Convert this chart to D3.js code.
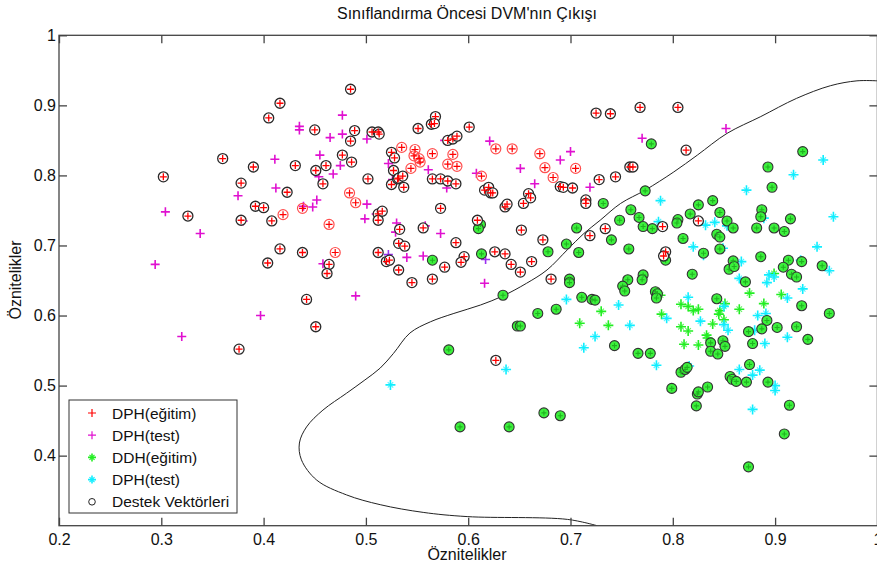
<!DOCTYPE html>
<html><head><meta charset="utf-8">
<script src="https://cdn.jsdelivr.net/npm/d3@7"></script>
<style>
body{margin:0;background:#fff;}
text{font-family:"Liberation Sans",Arial,sans-serif;fill:#111;}
</style></head>
<body><svg id="c" width="877" height="567"></svg>
<script>
const titleText = "Sınıflandırma Öncesi DVM'nın Çıkışı";
const xLabel = "Öznitelikler", yLabel = "Öznitelikler";
const xTicks = [0.2,0.3,0.4,0.5,0.6,0.7,0.8,0.9,1.0];
const yTicks = [0.4,0.5,0.6,0.7,0.8,0.9,1.0];
const legendLabels = ["DPH(eğitim)","DPH(test)","DDH(eğitim)","DPH(test)","Destek Vektörleri"];

// DPH training points that are support vectors
const redSV = [[0.485,0.923],[0.416,0.903],[0.405,0.882],[0.450,0.865],[0.489,0.864],[0.485,0.849],[0.506,0.862],[0.512,0.862],[0.513,0.859],[0.360,0.824],[0.302,0.798],[0.390,0.812],[0.431,0.814],[0.477,0.829],[0.486,0.819],[0.451,0.807],[0.461,0.814],[0.458,0.788],[0.502,0.795],[0.378,0.789],[0.423,0.776],[0.392,0.756],[0.400,0.754],[0.326,0.742],[0.378,0.736],[0.408,0.735],[0.512,0.745],[0.512,0.736],[0.516,0.749],[0.525,0.833],[0.528,0.825],[0.527,0.807],[0.525,0.787],[0.531,0.795],[0.568,0.884],[0.564,0.873],[0.567,0.874],[0.551,0.867],[0.601,0.869],[0.580,0.850],[0.585,0.852],[0.589,0.856],[0.725,0.889],[0.739,0.888],[0.768,0.897],[0.805,0.897],[0.532,0.796],[0.536,0.799],[0.537,0.783],[0.565,0.795],[0.573,0.795],[0.580,0.792],[0.588,0.788],[0.616,0.779],[0.620,0.783],[0.622,0.775],[0.624,0.775],[0.690,0.784],[0.693,0.783],[0.702,0.782],[0.728,0.794],[0.744,0.798],[0.758,0.812],[0.761,0.812],[0.813,0.836],[0.573,0.753],[0.636,0.755],[0.638,0.759],[0.654,0.760],[0.659,0.774],[0.661,0.768],[0.715,0.765],[0.715,0.760],[0.609,0.736],[0.556,0.725],[0.533,0.723],[0.652,0.722],[0.734,0.724],[0.719,0.714],[0.673,0.708],[0.588,0.704],[0.532,0.703],[0.538,0.699],[0.520,0.677],[0.523,0.679],[0.596,0.684],[0.593,0.676],[0.577,0.669],[0.626,0.691],[0.636,0.688],[0.642,0.673],[0.662,0.677],[0.532,0.665],[0.565,0.652],[0.545,0.647],[0.651,0.662],[0.681,0.652],[0.416,0.695],[0.438,0.690],[0.404,0.675],[0.464,0.673],[0.462,0.660],[0.512,0.690],[0.442,0.623],[0.451,0.584],[0.376,0.552],[0.627,0.536],[0.790,0.727],[0.825,0.735],[0.793,0.691],[0.791,0.685]];
// DPH training points (not support vectors)
const redTrain = [[0.484,0.775],[0.490,0.761],[0.438,0.753],[0.419,0.744],[0.464,0.730],[0.470,0.690],[0.535,0.840],[0.548,0.837],[0.547,0.828],[0.552,0.824],[0.553,0.819],[0.565,0.831],[0.585,0.830],[0.580,0.816],[0.589,0.813],[0.627,0.838],[0.643,0.838],[0.670,0.831],[0.544,0.810],[0.613,0.799],[0.675,0.811],[0.683,0.797],[0.705,0.810]];
// DPH test points
const magTest = [[0.477,0.886],[0.435,0.870],[0.435,0.865],[0.465,0.854],[0.477,0.859],[0.501,0.852],[0.411,0.823],[0.455,0.829],[0.475,0.814],[0.468,0.802],[0.454,0.798],[0.412,0.782],[0.375,0.771],[0.439,0.756],[0.448,0.755],[0.452,0.765],[0.501,0.759],[0.304,0.748],[0.380,0.735],[0.499,0.738],[0.510,0.745],[0.530,0.732],[0.577,0.850],[0.621,0.849],[0.700,0.834],[0.690,0.822],[0.522,0.817],[0.526,0.809],[0.561,0.808],[0.608,0.803],[0.651,0.810],[0.526,0.794],[0.579,0.782],[0.665,0.788],[0.719,0.783],[0.558,0.728],[0.529,0.719],[0.573,0.717],[0.540,0.683],[0.556,0.685],[0.616,0.646],[0.338,0.717],[0.294,0.673],[0.458,0.674],[0.490,0.628],[0.397,0.600],[0.320,0.570],[0.852,0.867],[0.770,0.853]];
const violetTest = [[0.522,0.687],[0.617,0.680]];
// DDH training points that are support vectors
const greenSV = [[0.732,0.760],[0.748,0.736],[0.773,0.778],[0.779,0.845],[0.612,0.730],[0.610,0.724],[0.706,0.725],[0.696,0.702],[0.740,0.708],[0.565,0.679],[0.613,0.688],[0.678,0.691],[0.708,0.690],[0.757,0.695],[0.699,0.652],[0.699,0.647],[0.634,0.629],[0.756,0.651],[0.751,0.642],[0.753,0.635],[0.711,0.626],[0.721,0.623],[0.724,0.622],[0.668,0.603],[0.686,0.609],[0.648,0.585],[0.651,0.585],[0.743,0.557],[0.581,0.551],[0.759,0.751],[0.767,0.740],[0.771,0.727],[0.780,0.724],[0.805,0.737],[0.804,0.732],[0.817,0.745],[0.825,0.758],[0.839,0.764],[0.846,0.747],[0.853,0.735],[0.810,0.710],[0.843,0.716],[0.846,0.712],[0.830,0.689],[0.846,0.695],[0.793,0.679],[0.855,0.666],[0.819,0.659],[0.771,0.658],[0.770,0.651],[0.783,0.634],[0.785,0.631],[0.784,0.625],[0.843,0.624],[0.837,0.561],[0.849,0.564],[0.851,0.556],[0.837,0.549],[0.844,0.545],[0.766,0.546],[0.778,0.546],[0.808,0.519],[0.812,0.523],[0.814,0.526],[0.799,0.496],[0.824,0.488],[0.825,0.491],[0.834,0.498],[0.856,0.513],[0.858,0.509],[0.862,0.506],[0.823,0.471],[0.927,0.834],[0.893,0.812],[0.897,0.783],[0.887,0.751],[0.886,0.741],[0.915,0.738],[0.859,0.725],[0.882,0.725],[0.899,0.725],[0.909,0.720],[0.886,0.684],[0.859,0.678],[0.860,0.670],[0.913,0.679],[0.908,0.669],[0.926,0.677],[0.946,0.671],[0.916,0.659],[0.921,0.655],[0.871,0.648],[0.926,0.614],[0.953,0.603],[0.892,0.593],[0.874,0.577],[0.887,0.581],[0.902,0.583],[0.921,0.584],[0.932,0.566],[0.878,0.560],[0.875,0.530],[0.872,0.505],[0.893,0.505],[0.914,0.472],[0.909,0.431],[0.874,0.384],[0.592,0.441],[0.640,0.441],[0.674,0.461],[0.690,0.457]];
// DDH training points (not support vectors)
const greenTrain = [[0.730,0.606],[0.709,0.589],[0.737,0.586],[0.788,0.629],[0.808,0.616],[0.815,0.613],[0.820,0.607],[0.825,0.609],[0.846,0.607],[0.845,0.602],[0.789,0.602],[0.839,0.588],[0.850,0.594],[0.808,0.584],[0.815,0.578],[0.833,0.572],[0.834,0.568],[0.811,0.559],[0.825,0.558],[0.899,0.660],[0.875,0.632],[0.906,0.630],[0.889,0.617],[0.851,0.617],[0.865,0.609]];
// test points (cyan)
const cyanTest = [[0.788,0.764],[0.786,0.734],[0.832,0.729],[0.841,0.733],[0.853,0.728],[0.820,0.698],[0.830,0.686],[0.849,0.696],[0.815,0.626],[0.747,0.615],[0.794,0.596],[0.827,0.592],[0.854,0.579],[0.758,0.586],[0.724,0.570],[0.713,0.554],[0.784,0.529],[0.816,0.528],[0.696,0.623],[0.637,0.523],[0.524,0.501],[0.947,0.822],[0.918,0.801],[0.872,0.779],[0.889,0.739],[0.957,0.741],[0.941,0.698],[0.867,0.677],[0.860,0.670],[0.925,0.679],[0.953,0.664],[0.894,0.658],[0.899,0.655],[0.865,0.653],[0.892,0.647],[0.927,0.638],[0.912,0.625],[0.850,0.613],[0.883,0.600],[0.891,0.603],[0.850,0.587],[0.880,0.579],[0.912,0.569],[0.890,0.560],[0.865,0.523],[0.885,0.522],[0.878,0.515],[0.900,0.500],[0.900,0.493],[0.878,0.466]];
// decision boundary
const boundaryX = [0.726,0.697,0.599,0.556,0.514,0.481,0.452,0.437,0.435,0.442,0.458,0.481,0.499,0.514,0.527,0.543,0.563,0.586,0.612,0.634,0.657,0.677,0.697,0.713,0.729,0.749,0.773,0.801,0.824,0.853,0.886,0.921,0.954,0.980,1.000];
const boundaryY = [0.300,0.309,0.313,0.319,0.330,0.344,0.365,0.394,0.418,0.441,0.465,0.489,0.508,0.525,0.546,0.575,0.591,0.603,0.615,0.628,0.646,0.665,0.694,0.717,0.736,0.760,0.779,0.805,0.829,0.860,0.884,0.910,0.928,0.935,0.935];

const svg = d3.select("#c");
const x = d3.scaleLinear().domain([0.2,1.0]).range([59,877.4]);
const y = d3.scaleLinear().domain([0.3,1.0]).range([525.7,35.3]);
const fs = 16;

svg.append("defs").append("clipPath").attr("id","clip").append("rect")
  .attr("x",59).attr("y",35.3).attr("width",818.4).attr("height",490.4);
const plot = svg.append("g").attr("clip-path","url(#clip)");

const plusPath = a => `M${-a},0H${a}M0,${-a}V${a}`;
const xPath = a => `M${-a},${-a}L${a},${a}M${-a},${a}L${a},${-a}`;
const circlePath = r => `M${r},0A${r},${r} 0 1,1 ${-r},0A${r},${r} 0 1,1 ${r},0Z`;

function drawPlus(g, data, color, a, w){
  g.selectAll(null).data(data).join("path")
   .attr("transform", d=>`translate(${x(d[0])},${y(d[1])})`)
   .attr("d", plusPath(a)).attr("stroke", color).attr("stroke-width", w).attr("fill","none");
}
function drawStar(g, data, color, a, w){
  g.selectAll(null).data(data).join("path")
   .attr("transform", d=>`translate(${x(d[0])},${y(d[1])})`)
   .attr("d", plusPath(a)).attr("stroke", color).attr("stroke-width", w).attr("fill","none");
  g.selectAll(null).data(data).join("path")
   .attr("transform", d=>`translate(${x(d[0])},${y(d[1])})`)
   .attr("d", xPath(a*0.55)).attr("stroke", color).attr("stroke-width", w*0.7).attr("fill","none").attr("opacity",0.7);
}
function drawCircle(g, data, color, r, w, fill){
  g.selectAll(null).data(data).join("path")
   .attr("transform", d=>`translate(${x(d[0])},${y(d[1])})`)
   .attr("d", circlePath(r)).attr("stroke", color).attr("stroke-width", w).attr("fill", fill||"none");
}

// boundary
const line = d3.line().x((d,i)=>x(boundaryX[i])).y((d,i)=>y(boundaryY[i])).curve(d3.curveCatmullRom);
plot.append("path").attr("d", line(boundaryX)).attr("fill","none").attr("stroke","#222").attr("stroke-width",1);

const gM = plot.append("g");
drawPlus(gM, magTest, "#e010d0", 4.5, 1.6);
drawPlus(gM, violetTest, "#9a30f0", 4.5, 1.6);
drawCircle(gM, redTrain, "#ff5050", 5, 1.2);
drawPlus(gM, redTrain, "#ff0000", 3.5, 1.2);
drawStar(gM, greenTrain, "#22ee22", 5, 1.6);
drawStar(gM, cyanTest, "#10eeff", 5, 1.6);
drawCircle(gM, greenSV, "#333", 5, 1.1, "#3cf03c");
drawPlus(gM, greenSV, "#1fb01f", 2.5, 1.1);
drawCircle(gM, redSV, "#2a2a2a", 5, 1.3, "#fff");
drawPlus(gM, redSV, "#ff0000", 3.5, 1.3);

// axes
const axCol = "#444";
svg.append("rect").attr("x",59).attr("y",35.3).attr("width",818.4).attr("height",490.4)
  .attr("fill","none").attr("stroke",axCol).attr("stroke-width",1.3);
const fmt = d => d===1 ? "1" : d.toFixed(1);
const ax = svg.append("g").attr("transform","translate(0,525.7)")
  .call(d3.axisBottom(x).tickValues(xTicks).tickFormat(fmt).tickSizeInner(-8).tickSizeOuter(0).tickPadding(8));
const axT = svg.append("g").attr("transform","translate(0,35.3)")
  .call(d3.axisTop(x).tickValues(xTicks).tickFormat("").tickSizeInner(-8).tickSizeOuter(0));
const ay = svg.append("g").attr("transform","translate(59,0)")
  .call(d3.axisLeft(y).tickValues(yTicks).tickFormat(fmt).tickSizeInner(-8).tickSizeOuter(0).tickPadding(3));
const ayR = svg.append("g").attr("transform","translate(877.4,0)")
  .call(d3.axisRight(y).tickValues(yTicks).tickFormat("").tickSizeInner(-8).tickSizeOuter(0));
[ax,axT,ay,ayR].forEach(g=>{
  g.select(".domain").remove();
  g.selectAll(".tick line").attr("stroke",axCol).attr("stroke-width",1.3);
  g.selectAll(".tick text").attr("font-size",fs).attr("font-family","Liberation Sans, Arial, sans-serif").attr("fill","#111");
});

// titles
svg.append("text").attr("x",467).attr("y",19).attr("text-anchor","middle").attr("font-size",16).text(titleText);
svg.append("text").attr("x",467).attr("y",560).attr("text-anchor","middle").attr("font-size",16).text(xLabel);
svg.append("text").attr("transform","translate(21,280) rotate(-90)").attr("text-anchor","middle").attr("font-size",16).text(yLabel);

// legend
const lg = svg.append("g");
lg.append("rect").attr("x",69).attr("y",400).attr("width",168).attr("height",113)
  .attr("fill","#fff").attr("stroke","#333").attr("stroke-width",1);
const rowY = i => 413 + i*22.2;
const lx = 92;
const legendData = legendLabels.map((t,i)=>({t,i}));
lg.selectAll(null).data(legendData).join("text")
  .attr("x",112).attr("y",d=>rowY(d.i)+5.5).attr("font-size",15.5).text(d=>d.t);
lg.append("path").attr("d",`M${lx-4},${rowY(0)}H${lx+4}M${lx},${rowY(0)-4}V${rowY(0)+4}`).attr("stroke","#ff0000").attr("stroke-width",1.2);
lg.append("path").attr("d",`M${lx-4},${rowY(1)}H${lx+4}M${lx},${rowY(1)-4}V${rowY(1)+4}`).attr("stroke","#e010d0").attr("stroke-width",1.2);
[[2,"#22ee22"],[3,"#10eeff"]].forEach(([i,c])=>{
  const cy=rowY(i);
  lg.append("path").attr("d",`M${lx-4},${cy}H${lx+4}M${lx},${cy-4}V${cy+4}`).attr("stroke",c).attr("stroke-width",1.6);
  lg.append("path").attr("d",`M${lx-2.5},${cy-2.5}L${lx+2.5},${cy+2.5}M${lx-2.5},${cy+2.5}L${lx+2.5},${cy-2.5}`).attr("stroke",c).attr("stroke-width",1.2);
});
lg.append("circle").attr("cx",lx).attr("cy",rowY(4)).attr("r",3.3).attr("fill","none").attr("stroke","#222").attr("stroke-width",1);
</script></body></html>
